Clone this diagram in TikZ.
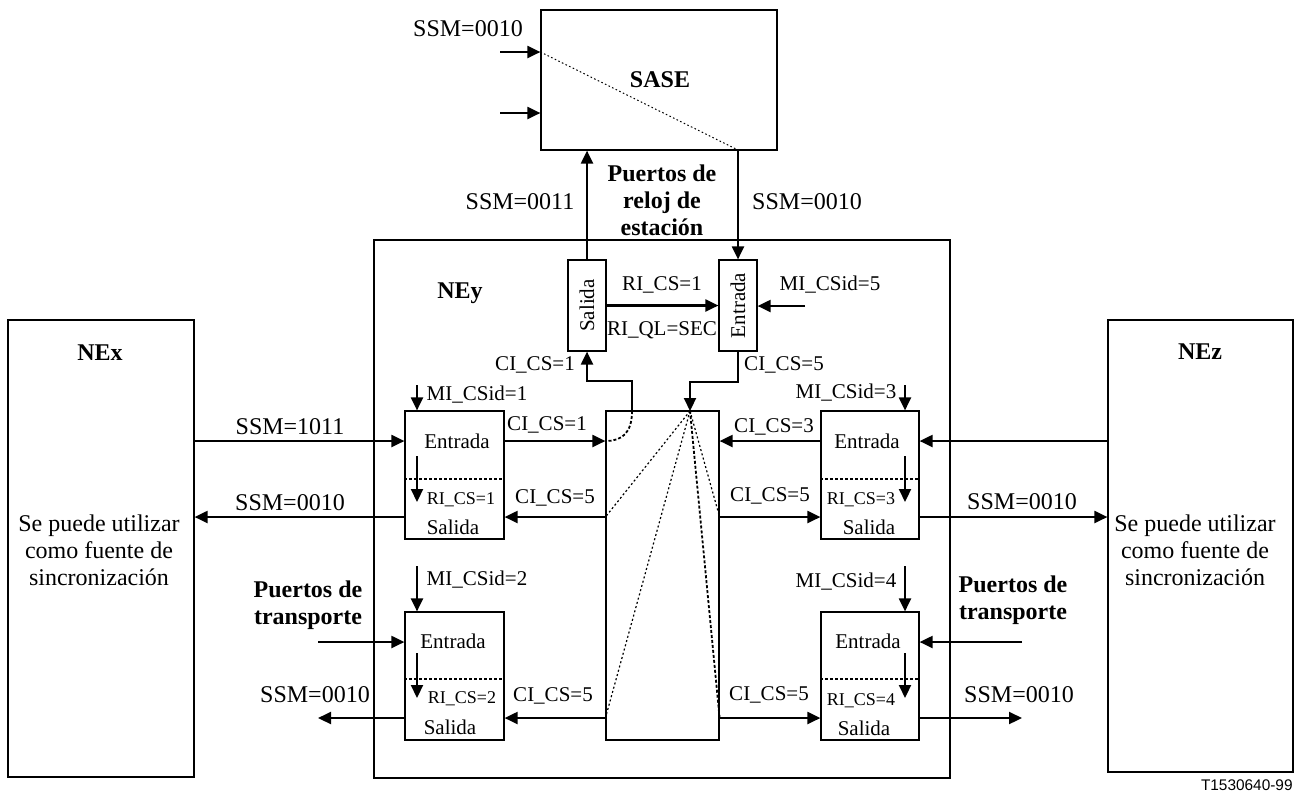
\documentclass[tikz,border=0pt]{standalone}
\usepackage{fontspec}
\setmainfont{Liberation Serif}
\newfontfamily\labsans{Liberation Sans}
\usetikzlibrary{arrows.meta,fit}
\begin{document}
\begin{tikzpicture}[x=0.5pt,y=-0.5pt,
  box/.style={draw,line width=0.6pt,inner sep=0pt},
  arr/.style={line width=1.05pt,-{Triangle[length=6.5pt,width=6pt]}},
  ln/.style={line width=1pt},
  sepline/.style={line width=0.9pt,dash pattern=on 1.5pt off 1pt},
  fan/.style={line width=0.6pt,dash pattern=on 1pt off 1.2pt},
  big/.style={font=\fontsize{12}{13.5}\selectfont\bfseries,inner sep=0pt,align=center},
  ssm/.style={font=\fontsize{12}{13.5}\selectfont,inner sep=0pt,align=center},
  lab/.style={font=\fontsize{10.5}{12}\selectfont,inner sep=0pt},
  sml/.style={font=\fontsize{9}{11}\selectfont,inner sep=0pt},
]
\useasboundingbox (0,0) rectangle (1299,794);

% boxes
\node[box,fit={(541,10)(777,150)}] (sase) {};
\node[box,fit={(374,240)(950,778)}] (ney) {};
\node[box,fit={(8,320)(194,777)}] (nex) {};
\node[box,fit={(1108,320)(1293,772)}] (nez) {};
\node[box,fit={(568,260)(606,351)}] (sal) {};
\node[box,fit={(719,260)(757,351)}] (ent) {};
\node[box,fit={(606,411)(719,740)}] (mx) {};
\node[box,fit={(405,411)(504,539)}] (p1) {};
\node[box,fit={(405,612)(504,740)}] (p2) {};
\node[box,fit={(821,411)(919,539)}] (p3) {};
\node[box,fit={(821,612)(919,740)}] (p4) {};

% level coordinates
\coordinate (ya) at (0,441);
\coordinate (yb) at (0,517);
\coordinate (yc) at (0,642);
\coordinate (yd) at (0,718);

% texts in boxes
\node[big] (tsase) at (660,80) {SASE};
\node[big] (tnex) at (100,353) {NEx};
\node[big] (tnez) at (1200,352) {NEz};
\node[big] (tney) at (460,293) {NEy};
\node[ssm] (tnexs) at (99,550) {Se puede utilizar\\como fuente de\\sincronización};
\node[ssm] (tnezs) at (1195,550) {Se puede utilizar\\como fuente de\\sincronización};
\node[big] (tpr) at (662,200) {Puertos de\\reloj de\\estación};
\node[big] (tpt1) at (308,605) {Puertos de\\transporte};
\node[big] (tpt2) at (1013,600) {Puertos de\\transporte};
\node[lab,rotate=90] (tsal) at (sal.center) {Salida};
\node[lab,rotate=90] (tent) at (ent.center) {Entrada};

\node[lab] (e1) at (457,441) {Entrada};
\node[sml] (r1) at (461,500) {RI\_CS=1};
\node[lab] (s1) at (453,527) {Salida};
\node[lab] (e2) at (453,641) {Entrada};
\node[sml] (r2) at (462,699) {RI\_CS=2};
\node[lab] (s2) at (450,727) {Salida};
\node[lab] (e3) at (867,441) {Entrada};
\node[sml] (r3) at (861,500) {RI\_CS=3};
\node[lab] (s3) at (869,527) {Salida};
\node[lab] (e4) at (868,641) {Entrada};
\node[sml] (r4) at (861,701) {RI\_CS=4};
\node[lab] (s4) at (864,728) {Salida};

% separators
\draw[sepline] (p1.west |- 0,479) -- (p1.east |- 0,479);
\draw[sepline] (p2.west |- 0,679) -- (p2.east |- 0,679);
\draw[sepline] (p3.west |- 0,479) -- (p3.east |- 0,479);
\draw[sepline] (p4.west |- 0,679) -- (p4.east |- 0,679);

% internal arrows
\coordinate (ia1) at (417,456); \draw[arr] (ia1) -- ++(0,46);
\coordinate (ia2) at (417,653); \draw[arr] (ia2) -- ++(0,45);
\coordinate (ia3) at (905,456); \draw[arr] (ia3) -- ++(0,46);
\coordinate (ia4) at (905,653); \draw[arr] (ia4) -- ++(0,45);

% SASE
\coordinate (i1) at (500,52);
\coordinate (i2) at (500,113);
\coordinate (sb) at (738,150);
\draw[arr] (i1) -- (i1 -| sase.west);
\draw[arr] (i2) -- (i2 -| sase.west);
\draw[line width=0.5pt,dash pattern=on 0.8pt off 1.2pt] (i1 -| sase.west) -- (sb);
\node[ssm] (lsase) at (468,29) {SSM=0010};
\draw[arr] (sal.north) -- (sal.north |- sase.south);
\draw[arr] (sb) -- (ent.north);
\node[ssm] (l0011) at (520,202) {SSM=0011};
\node[ssm] (l0010s) at (807,202) {SSM=0010};

% station ports
\draw[arr] (sal.east) -- (ent.west);
\node[lab] (lri) at (662,285) {RI\_CS=1};
\node[lab] (lql) at (662,330) {RI\_QL=SEC};
\coordinate (m5) at (805,306);
\draw[arr] (m5) -- (m5 -| ent.east);
\node[lab] (lm5) at (830,285) {MI\_CSid=5};

\coordinate (c1) at (632,411);
\coordinate (apex) at (690,411);
\draw[arr] (c1) -- ++(0,-30) -| (sal.south);
\draw[arr] (ent.south) -- ++(0,30) -| (apex);
\node[lab] (lc1u) at (535,365) {CI\_CS=1};
\node[lab] (lc5u) at (784,365) {CI\_CS=5};

% matrix internals
\draw[sepline] (c1) .. controls (632,433) and (622,441) .. (mx.west |- ya);
\draw[fan] (apex) -- (mx.west |- yb);
\draw[fan] (apex) -- (mx.east |- yb);
\draw[fan] (apex) -- (mx.west |- yd);
\draw[sepline] (apex) -- (mx.east |- yd);

% port 1
\draw[arr] (nex.east |- ya) -- (p1.west |- ya);
\draw[arr] (p1.west |- yb) -- (nex.east |- yb);
\node[ssm] (l1011) at (290,427) {SSM=1011};
\node[ssm] (l0010a) at (290,503) {SSM=0010};
\draw[arr] (p1.east |- ya) -- (mx.west |- ya);
\draw[arr] (mx.west |- yb) -- (p1.east |- yb);
\node[lab] (lc11) at (547,425) {CI\_CS=1};
\node[lab] (lc51) at (555,498) {CI\_CS=5};
\coordinate (m1) at (417,385);
\draw[arr] (m1) -- (m1 |- p1.north);
\node[lab] (lm1) at (477,395) {MI\_CSid=1};

% port 2
\coordinate (t2in) at (318,642);
\coordinate (t2out) at (318,718);
\draw[arr] (t2in) -- (t2in -| p2.west);
\draw[arr] (t2out -| p2.west) -- (t2out);
\node[ssm] (l0010b) at (315,695) {SSM=0010};
\draw[arr] (mx.west |- yd) -- (p2.east |- yd);
\node[lab] (lc52) at (553,696) {CI\_CS=5};
\coordinate (m2) at (417,566);
\draw[arr] (m2) -- (m2 |- p2.north);
\node[lab] (lm2) at (477,580) {MI\_CSid=2};

% port 3
\draw[arr] (nez.west |- ya) -- (p3.east |- ya);
\draw[arr] (p3.east |- yb) -- (nez.west |- yb);
\node[ssm] (l0010c) at (1022,502) {SSM=0010};
\draw[arr] (p3.west |- ya) -- (mx.east |- ya);
\draw[arr] (mx.east |- yb) -- (p3.west |- yb);
\node[lab] (lc33) at (774,427) {CI\_CS=3};
\node[lab] (lc53) at (770,496) {CI\_CS=5};
\coordinate (m3) at (905,385);
\draw[arr] (m3) -- (m3 |- p3.north);
\node[lab] (lm3) at (846,393) {MI\_CSid=3};

% port 4
\coordinate (t4in) at (1022,642);
\coordinate (t4out) at (1022,718);
\draw[arr] (t4in) -- (t4in -| p4.east);
\draw[arr] (t4out -| p4.east) -- (t4out);
\node[ssm] (l0010d) at (1019,695) {SSM=0010};
\draw[arr] (mx.east |- yd) -- (p4.west |- yd);
\node[lab] (lc54) at (769,695) {CI\_CS=5};
\coordinate (m4) at (905,566);
\draw[arr] (m4) -- (m4 |- p4.north);
\node[lab] (lm4) at (846,582) {MI\_CSid=4};

\node[font=\labsans\fontsize{7.7}{9}\selectfont,anchor=east,inner sep=0pt] (code) at (1293,785) {T1530640-99};
\end{tikzpicture}
\end{document}
